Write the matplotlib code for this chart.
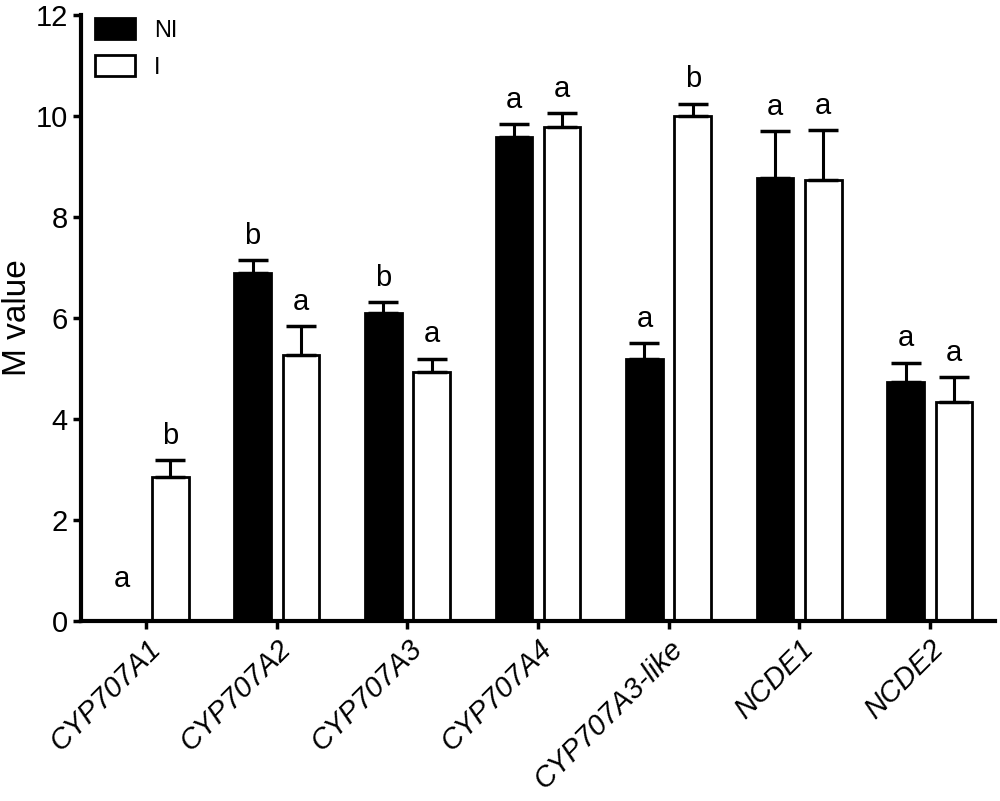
import numpy as np
import matplotlib
matplotlib.use('Agg')
import matplotlib.pyplot as plt

plt.rcParams['font.family'] = ['Liberation Sans', 'DejaVu Sans']

genes = ['CYP707A1', 'CYP707A2', 'CYP707A3', 'CYP707A4', 'CYP707A3-like', 'NCDE1', 'NCDE2']
ni_mean = [0.0, 6.9, 6.1, 9.59, 5.19, 8.77, 4.74]
ni_err = [0.0, 0.25, 0.22, 0.26, 0.31, 0.93, 0.38]
i_mean = [2.86, 5.27, 4.93, 9.79, 10.0, 8.73, 4.33]
i_err = [0.32, 0.58, 0.27, 0.28, 0.25, 1.0, 0.5]
ni_letters = ['a', 'b', 'b', 'a', 'a', 'a', 'a']
i_letters = ['b', 'a', 'a', 'a', 'b', 'a', 'a']

fig = plt.figure(figsize=(10, 8.01), dpi=100)
ax = fig.add_axes([0.081, 0.2247, 0.914, 0.7563])

x = np.arange(len(genes))
w = 0.28
off = 0.185

ax.bar(x - off, ni_mean, w, color='black', edgecolor='black', linewidth=2, label='NI', zorder=2)
ax.bar(x + off, i_mean, w, color='white', edgecolor='black', linewidth=2, label='I', zorder=2)

# nur obere Fehlerbalken
ni_e = [e if m > 0 else 0 for m, e in zip(ni_mean, ni_err)]
ax.errorbar(x - off, ni_mean, yerr=[np.zeros(len(x)), ni_e], fmt='none', ecolor='black',
            elinewidth=2.2, capsize=11, capthick=2.5, zorder=3)
ax.errorbar(x + off, i_mean, yerr=[np.zeros(len(x)), i_err], fmt='none', ecolor='black',
            elinewidth=2.2, capsize=11, capthick=2.5, zorder=3)

for xi, m, e, t in zip(x, ni_mean, ni_err, ni_letters):
    y = m + e + 0.2 if m > 0 else 0.55
    ax.text(xi - off, y, t, ha='center', va='bottom', fontsize=21)
for xi, m, e, t in zip(x, i_mean, i_err, i_letters):
    ax.text(xi + off, m + e + 0.2, t, ha='center', va='bottom', fontsize=21)

ax.set_xlim(-0.5, len(genes) - 0.5)
ax.set_ylim(0, 12)
ax.set_yticks(range(0, 13, 2))
ax.set_xticks(x)
ax.set_xticklabels(genes, rotation=45, ha='right', rotation_mode='anchor', style='italic', fontsize=21)
ax.tick_params(axis='both', width=2.5, length=6, direction='out')
ax.tick_params(axis='y', labelsize=21)
ax.tick_params(axis='x', pad=4)
ax.set_ylabel('M value', fontsize=24, labelpad=2)

for s in ['top', 'right']:
    ax.spines[s].set_visible(False)
for s in ['left', 'bottom']:
    ax.spines[s].set_linewidth(3)

ax.legend(loc='upper left', bbox_to_anchor=(-0.008, 1.03), frameon=False, fontsize=17,
          handlelength=1.7, handleheight=1.0, handletextpad=0.8, labelspacing=0.55)

plt.savefig('out.png', dpi=100)
